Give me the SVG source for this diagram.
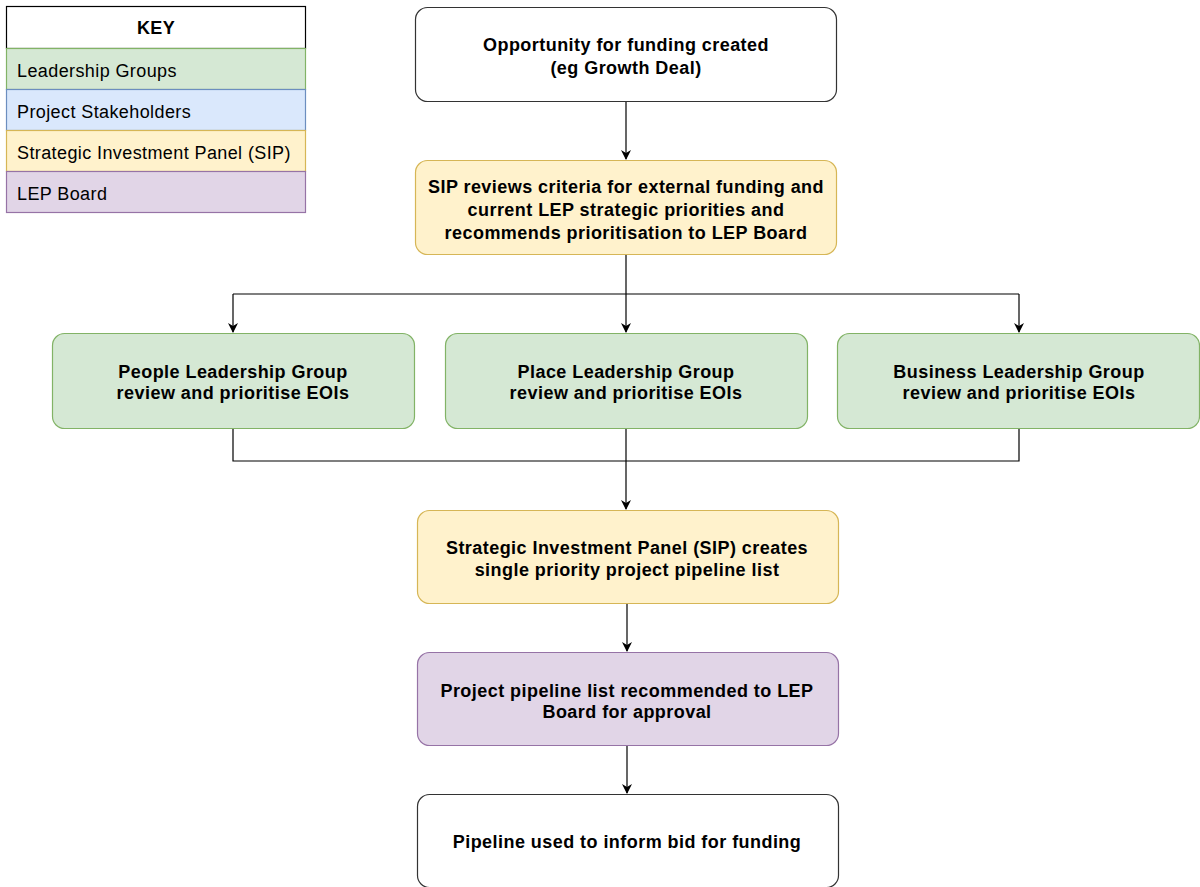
<svg xmlns="http://www.w3.org/2000/svg" width="1200" height="887" viewBox="0 0 1200 887">
  <defs>
    <marker id="arrow" viewBox="0 0 10 10" refX="9" refY="5" markerWidth="10" markerHeight="10" markerUnits="userSpaceOnUse" orient="auto">
      <path d="M0,0 L10,5 L0,10 L3,5 Z" fill="#000"/>
    </marker>
    <style>
      .node text { font-family: "Liberation Sans", Arial, sans-serif; font-size: 18px; letter-spacing: 0.45px; font-weight: bold; fill: #000; text-anchor: middle; }
      .key text { font-family: "Liberation Sans", Arial, sans-serif; font-size: 18px; letter-spacing: 0.4px; fill: #000; }
      .plain { fill: #ffffff; stroke: #333333; stroke-width: 1.2; }
      .sip { fill: #fff2cc; stroke: #d6b656; stroke-width: 1.2; }
      .lead { fill: #d5e8d4; stroke: #82b366; stroke-width: 1.2; }
      .stake { fill: #dae8fc; stroke: #6c8ebf; stroke-width: 1.2; }
      .board { fill: #e1d5e7; stroke: #9673a6; stroke-width: 1.2; }
      .conn path { fill: none; stroke: #000; stroke-width: 1.2; }
    </style>
  </defs>
  <rect width="1200" height="887" fill="#ffffff"/>

  <!-- Legend -->
  <g id="key" class="key">
    <rect x="6.5" y="6.5" width="299" height="42" fill="#ffffff" stroke="#000" stroke-width="1.2"/>
    <text x="156" y="34" text-anchor="middle" font-weight="bold">KEY</text>
    <rect class="lead" x="6.5" y="48.5" width="299" height="41"/>
    <text x="17" y="77">Leadership Groups</text>
    <rect class="stake" x="6.5" y="89.5" width="299" height="41"/>
    <text x="17" y="118">Project Stakeholders</text>
    <rect class="sip" x="6.5" y="130.5" width="299" height="41"/>
    <text x="17" y="159">Strategic Investment Panel (SIP)</text>
    <rect class="board" x="6.5" y="171.5" width="299" height="41"/>
    <text x="17" y="200">LEP Board</text>
  </g>

  <!-- Connectors -->
  <g id="connectors" class="conn">
    <path d="M626,102 V159" marker-end="url(#arrow)"/>
    <path d="M626,255 V332" marker-end="url(#arrow)"/>
    <path d="M233,294 H1019"/>
    <path d="M233,294 V332" marker-end="url(#arrow)"/>
    <path d="M1019,294 V332" marker-end="url(#arrow)"/>
    <path d="M233,429 V461 H1019 V429"/>
    <path d="M626,429 V509" marker-end="url(#arrow)"/>
    <path d="M627,604 V651" marker-end="url(#arrow)"/>
    <path d="M627,746 V793" marker-end="url(#arrow)"/>
  </g>

  <!-- Flow steps -->
  <g id="opportunity" class="node">
    <rect class="plain" x="415.5" y="7.5" width="421" height="94" rx="12"/>
    <text x="626" y="51">Opportunity for funding created</text>
    <text x="626" y="74">(eg Growth Deal)</text>
  </g>

  <g id="sip-review" class="node">
    <rect class="sip" x="415.5" y="160.5" width="421" height="94" rx="12"/>
    <text x="626" y="193">SIP reviews criteria for external funding and</text>
    <text x="626" y="216">current LEP strategic priorities and</text>
    <text x="626" y="239">recommends prioritisation to LEP Board</text>
  </g>

  <g id="people-group" class="node">
    <rect class="lead" x="52.5" y="333.5" width="362" height="95" rx="12"/>
    <text x="233" y="378">People Leadership Group</text>
    <text x="233" y="399">review and prioritise EOIs</text>
  </g>

  <g id="place-group" class="node">
    <rect class="lead" x="445.5" y="333.5" width="362" height="95" rx="12"/>
    <text x="626" y="378">Place Leadership Group</text>
    <text x="626" y="399">review and prioritise EOIs</text>
  </g>

  <g id="business-group" class="node">
    <rect class="lead" x="837.5" y="333.5" width="362" height="95" rx="12"/>
    <text x="1019" y="378">Business Leadership Group</text>
    <text x="1019" y="399">review and prioritise EOIs</text>
  </g>

  <g id="sip-pipeline" class="node">
    <rect class="sip" x="417.5" y="510.5" width="421" height="93" rx="12"/>
    <text x="627" y="554">Strategic Investment Panel (SIP) creates</text>
    <text x="627" y="576">single priority project pipeline list</text>
  </g>

  <g id="board-approval" class="node">
    <rect class="board" x="417.5" y="652.5" width="421" height="93" rx="12"/>
    <text x="627" y="697">Project pipeline list recommended to LEP</text>
    <text x="627" y="718">Board for approval</text>
  </g>

  <g id="bid" class="node">
    <rect class="plain" x="417.5" y="794.5" width="421" height="93" rx="12"/>
    <text x="627" y="848">Pipeline used to inform bid for funding</text>
  </g>
</svg>
